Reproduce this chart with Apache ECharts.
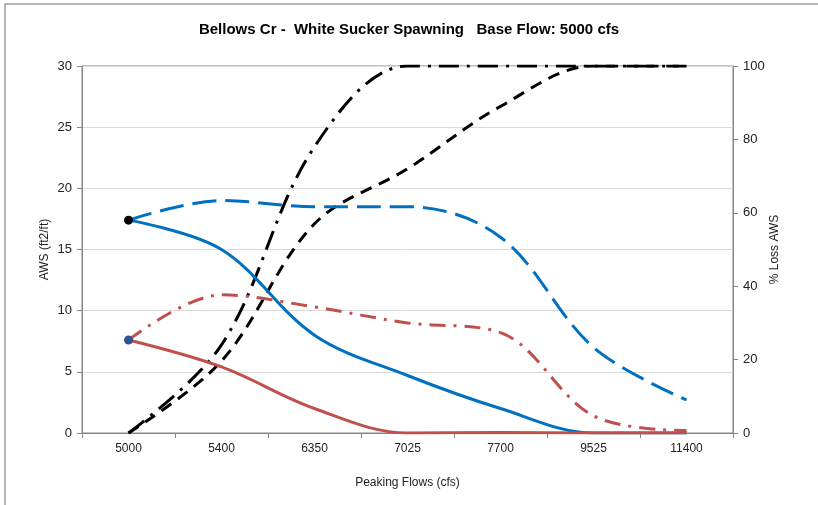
<!DOCTYPE html>
<html>
<head>
<meta charset="utf-8">
<script src="https://cdn.jsdelivr.net/npm/echarts@6/dist/echarts.min.js"></script>
<style>
html,body{margin:0;padding:0;background:#fff;}
#chart{width:818px;height:505px;}
</style>
</head>
<body>
<div id="chart"></div>
<script>
var categories = ['5000','5400','6350','7025','7700','9525','11400'];
var awsSolidBlue = [17.4, 15.0, 8.0, 4.7, 2.0, 0, 0];
var awsDashBlue = [17.4, 19.0, 18.5, 18.5, 16.0, 7.0, 2.7];
var awsSolidRed = [7.6, 5.4, 2.0, 0, 0.05, 0, 0];
var awsDashDotRed = [7.6, 11.3, 10.3, 9.0, 8.2, 1.4, 0.2];
var lossDashBlack = [0, 19.6, 57, 72, 89, 100, 100];
var lossDashDotBlack = [0, 24, 78, 100, 100, 100, 100];
var leftTicks = {min: 0, max: 30, interval: 5};
var rightTicks = {min: 0, max: 100, interval: 20};

var font = 'Liberation Sans, Arial, sans-serif';
var chart = echarts.init(document.getElementById('chart'), null, {renderer: 'canvas'});

function firstMarker(arr, color) {
  return arr.map(function (v, i) {
    if (i === 0) return {value: v, symbol: 'circle', symbolSize: 9, itemStyle: {color: color}};
    return v;
  });
}

var option = {
  backgroundColor: '#fff',
  animation: false,
  title: {
    text: 'Bellows Cr -  White Sucker Spawning   Base Flow: 5000 cfs',
    left: 'center',
    top: 17,
    textStyle: {fontFamily: font, fontSize: 15, fontWeight: 'bold', color: '#000'}
  },
  graphic: [{
    type: 'rect',
    shape: {x: 5, y: 4, width: 900, height: 600},
    style: {fill: 'none', stroke: '#a0a0a0', lineWidth: 1.5},
    silent: true
  }],
  grid: {
    left: 82, right: 85, top: 66, bottom: 72,
    show: true, borderColor: '#868686', borderWidth: 1, backgroundColor: 'transparent'
  },
  xAxis: {
    type: 'category',
    data: categories,
    boundaryGap: true,
    name: 'Peaking Flows (cfs)',
    nameLocation: 'middle',
    nameGap: 44,
    nameMoveOverlap: false,
    nameTextStyle: {fontFamily: font, fontSize: 12, color: '#222'},
    axisLine: {lineStyle: {color: '#868686'}},
    axisTick: {show: true, length: 5, alignWithLabel: false, lineStyle: {color: '#868686'}},
    axisLabel: {fontFamily: font, fontSize: 12, color: '#222', margin: 10},
    splitLine: {show: false}
  },
  yAxis: [{
    type: 'value',
    min: leftTicks.min, max: leftTicks.max, interval: leftTicks.interval,
    name: 'AWS (ft2/ft)',
    nameLocation: 'middle',
    nameGap: 31,
    nameMoveOverlap: false,
    nameRotate: 90,
    nameTextStyle: {fontFamily: font, fontSize: 12, color: '#222'},
    axisLine: {show: true, lineStyle: {color: '#868686'}},
    axisTick: {show: true, length: 5, lineStyle: {color: '#868686'}},
    axisLabel: {fontFamily: font, fontSize: 13, color: '#222', margin: 10},
    splitLine: {show: true, lineStyle: {color: '#d9d9d9'}}
  }, {
    type: 'value',
    min: rightTicks.min, max: rightTicks.max, interval: rightTicks.interval,
    position: 'right',
    name: '% Loss AWS',
    nameLocation: 'middle',
    nameGap: 36,
    nameMoveOverlap: false,
    nameRotate: 90,
    nameTextStyle: {fontFamily: font, fontSize: 12, color: '#222'},
    axisLine: {show: true, lineStyle: {color: '#868686'}},
    axisTick: {show: true, length: 5, lineStyle: {color: '#868686'}},
    axisLabel: {fontFamily: font, fontSize: 13, color: '#222', margin: 10},
    splitLine: {show: false}
  }],
  series: [{
    type: 'line', yAxisIndex: 1, smooth: 0.35, symbol: 'none',
    data: lossDashBlack,
    lineStyle: {color: '#000', width: 3, type: [12, 8]}
  }, {
    type: 'line', yAxisIndex: 1, smooth: 0.35, symbol: 'none',
    data: lossDashDotBlack,
    lineStyle: {color: '#000', width: 3, type: [20, 8, 3, 8]}
  }, {
    type: 'line', yAxisIndex: 0, smooth: 0.35, symbol: 'none',
    data: awsSolidBlue,
    lineStyle: {color: '#0070C0', width: 3}
  }, {
    type: 'line', yAxisIndex: 0, smooth: 0.35, symbol: 'none',
    data: firstMarker(awsDashBlue, '#000'),
    lineStyle: {color: '#0070C0', width: 3, type: [24, 9]}
  }, {
    type: 'line', yAxisIndex: 0, smooth: 0.35, symbol: 'none',
    data: awsSolidRed,
    lineStyle: {color: '#C0504D', width: 3}
  }, {
    type: 'line', yAxisIndex: 0, smooth: 0.35, symbol: 'none',
    data: firstMarker(awsDashDotRed, '#2F5597'),
    lineStyle: {color: '#C0504D', width: 3, type: [16, 8, 3, 8]}
  }]
};
chart.setOption(option);
</script>
</body>
</html>
